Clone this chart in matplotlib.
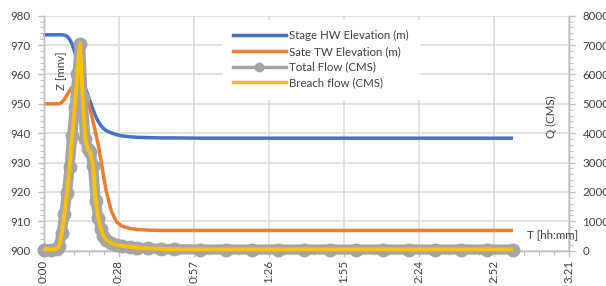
import matplotlib
matplotlib.use('Agg')
import matplotlib.pyplot as plt
from matplotlib.ticker import MultipleLocator
from matplotlib.lines import Line2D

plt.rcParams['font.family'] = ['Lato', 'DejaVu Sans']

# ---- data (time in minutes) ----
time_min = [0, 3, 5, 6, 7, 8, 9, 10, 11, 12, 13, 14, 15, 16, 17, 18, 19, 20, 21, 22,
            23, 24, 26, 28, 30, 33, 36, 40, 45, 50, 60, 70, 80, 90, 100, 110, 120,
            130, 140, 150, 160, 170, 180]
stage_hw = [973.5, 973.5, 973.5, 973.5, 973.5, 973.4, 973.0, 972.0, 970.3, 967.5,
            964.5, 961.0, 958.0, 955.5, 953.0, 950.5, 948.0, 945.8, 944.0, 942.6,
            941.6, 940.9, 940.1, 939.5, 939.1, 938.8, 938.6, 938.5, 938.4, 938.4,
            938.3, 938.3, 938.3, 938.3, 938.3, 938.3, 938.3, 938.3, 938.3, 938.3,
            938.3, 938.3, 938.3]
sate_tw = [950.0, 950.0, 950.0, 950.0, 950.5, 951.5, 953.0, 954.5, 955.7, 956.6,
           957.3, 957.6, 956.5, 954.0, 951.0, 947.5, 944.0, 940.0, 936.0, 931.0,
           925.5, 920.5, 913.5, 909.8, 908.4, 907.6, 907.2, 907.0, 906.9, 906.9,
           906.9, 906.9, 906.9, 906.9, 906.9, 906.9, 906.9, 906.9, 906.9, 906.9,
           906.9, 906.9, 906.9]
total_flow = [40, 40, 60, 150, 600, 1250, 1950, 2850, 3900, 4900,
              6000, 7050, 5200, 3800, 3450, 3350, 2900, 1700, 1100, 750,
              500, 380, 250, 200, 170, 130, 100, 80, 60, 50,
              40, 40, 40, 40, 40, 40, 40, 40, 40, 40,
              40, 40, 40]
breach_flow = [50, 50, 60, 150, 600, 1250, 1950, 2850, 3900, 4900,
               6000, 7050, 5200, 3800, 3450, 3350, 2900, 1700, 1100, 750,
               500, 380, 250, 200, 170, 130, 100, 80, 60, 50,
               45, 45, 45, 45, 45, 45, 45, 45, 45, 45,
               45, 45, 45]

x_tick_min = [0, 28.8, 57.6, 86.4, 115.2, 144.0, 172.8, 201.6]
x_tick_labels = ['0:00', '0:28', '0:57', '1:26', '1:55', '2:24', '2:52', '3:21']
z_ticks = [900, 910, 920, 930, 940, 950, 960, 970, 980]
q_ticks = [0, 1000, 2000, 3000, 4000, 5000, 6000, 7000, 8000]

# ---- style ----
C_BLUE = '#4472C4'
C_ORANGE = '#ED7D31'
C_GRAY = '#A5A5A5'
C_YELLOW = '#FFC000'
C_GRID = '#D9D9D9'
C_AXIS = '#BFBFBF'
C_TEXT = '#404040'
FS = 8.3

W, H = 606, 286
L, R, T, B = 43.5, 569.3, 15.7, 250.7

fig = plt.figure(figsize=(W / 100, H / 100), dpi=100)
ax = fig.add_axes([L / W, 1 - B / H, (R - L) / W, (B - T) / H])
ax2 = ax.twinx()

ax.set_xlim(x_tick_min[0], x_tick_min[-1])
ax.set_ylim(z_ticks[0], z_ticks[-1])
ax2.set_ylim(q_ticks[0], q_ticks[-1])

ax.set_xticks(x_tick_min)
ax.set_xticklabels(x_tick_labels, rotation=90)
ax.xaxis.set_minor_locator(MultipleLocator(5.76))
ax.set_yticks(z_ticks)
ax.yaxis.set_minor_locator(MultipleLocator(2))
ax2.set_yticks(q_ticks)
ax2.yaxis.set_minor_locator(MultipleLocator(200))

ax.grid(True, which='major', color=C_GRID, lw=1.1)
ax.set_axisbelow(True)

for a in (ax, ax2):
    for s in a.spines.values():
        s.set_color(C_AXIS)
        s.set_linewidth(1.0)
    a.spines['top'].set_visible(False)
    a.tick_params(which='both', colors=C_AXIS, labelcolor=C_TEXT, labelsize=FS)
    a.tick_params(which='major', length=4, width=1)
    a.tick_params(which='minor', length=3, width=0.8)
ax.tick_params(axis='y', pad=5.5)
ax2.tick_params(axis='y', pad=5.5)
ax.tick_params(axis='x', pad=2.5)

ax.plot(time_min, stage_hw, color=C_BLUE, lw=2.5, solid_capstyle='butt',
        clip_on=False, zorder=3)
ax.plot(time_min, sate_tw, color=C_ORANGE, lw=2.5, solid_capstyle='butt',
        clip_on=False, zorder=3)
ax2.plot(time_min, total_flow, color=C_GRAY, lw=7.4, marker='o', ms=9,
         mfc=C_GRAY, mec=C_GRAY, solid_capstyle='round', solid_joinstyle='round',
         clip_on=False, zorder=3)
ax2.plot(time_min, breach_flow, color=C_YELLOW, lw=2.8, solid_capstyle='butt',
         clip_on=False, zorder=4)

handles = [
    Line2D([], [], color=C_BLUE, lw=2.5),
    Line2D([], [], color=C_ORANGE, lw=2.5),
    Line2D([], [], color=C_GRAY, lw=2.5, marker='o', ms=6),
    Line2D([], [], color=C_YELLOW, lw=2.5),
]
labels = ['Stage HW Elevation (m)', 'Sate TW Elevation (m)',
          'Total Flow (CMS)', 'Breach flow (CMS)']
leg = ax2.legend(handles, labels, loc='center',
                 bbox_to_anchor=(321 / W, 1 - 59.2 / H),
                 bbox_transform=fig.transFigure, frameon=True, fancybox=False,
                 facecolor='white', edgecolor='white', framealpha=1,
                 fontsize=FS, handlelength=4.6, handletextpad=0.3,
                 labelspacing=0.42, numpoints=1, borderpad=0.9)
for txt in leg.get_texts():
    txt.set_color(C_TEXT)
leg.set_zorder(10)

fig.text(61.7 / W, 1 - 71 / H, 'Z [mnv]', rotation=90, ha='center', va='center',
         fontsize=FS, color=C_TEXT)
fig.text(551.7 / W, 1 - 117 / H, 'Q (CMS)', rotation=90, ha='center', va='center',
         fontsize=FS, color=C_TEXT)
fig.text(553 / W, 1 - 235 / H, 'T [hh:mm]', ha='center', va='center',
         fontsize=FS, color=C_TEXT)

fig.savefig('out.png', dpi=100)
